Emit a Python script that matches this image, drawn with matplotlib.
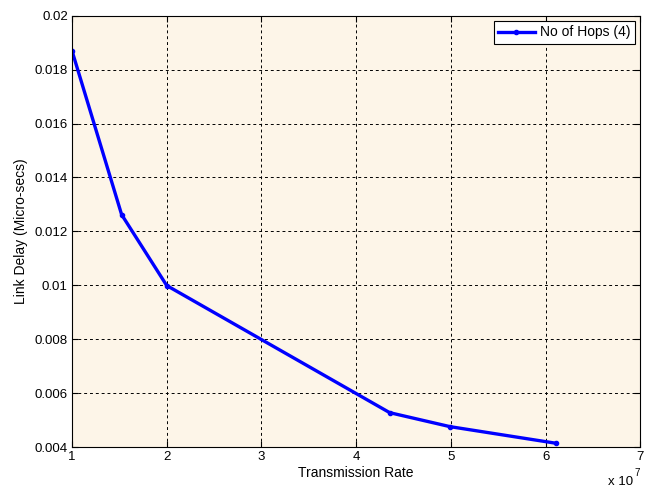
import matplotlib
matplotlib.use("Agg")
import matplotlib.pyplot as plt

rate = [1.0e7, 1.524e7, 2.0e7, 4.354e7, 4.99e7, 6.113e7]
delay = [0.0187, 0.01262, 0.00999, 0.005274, 0.004756, 0.004137]
xticks = [1e7, 2e7, 3e7, 4e7, 5e7, 6e7, 7e7]
xtick_labels = ["1", "2", "3", "4", "5", "6", "7"]
yticks = [0.004, 0.006, 0.008, 0.01, 0.012, 0.014, 0.016, 0.018, 0.02]
ytick_labels = ["0.004", "0.006", "0.008", "0.01", "0.012", "0.014", "0.016", "0.018", "0.02"]

plt.rcParams['font.family'] = ['Liberation Sans', 'DejaVu Sans']
plt.rcParams['font.size'] = 9

fig = plt.figure(figsize=(6.52, 4.98), dpi=100)
ax = fig.add_axes([72/652, 1-447/498, (640.3-72)/652, (447-15.7)/498])
ax.set_facecolor('#FDF5E8')
ax.plot(rate, delay, color='#0000FF', lw=2.4, marker='.', markersize=6, label='No of Hops (4)')
ax.set_xlim(1e7, 7e7)
ax.set_ylim(0.004, 0.02)
ax.set_xticks(xticks)
ax.set_xticklabels(xtick_labels)
ax.set_yticks(yticks)
ax.set_yticklabels(ytick_labels)
ax.tick_params(direction='in', length=4, width=0.8, top=True, right=True, labelsize=9.5, pad=3)
ax.grid(True, color='black', linestyle=(0, (3, 3)), linewidth=0.7)
for s in ax.spines.values():
    s.set_linewidth(0.8)
ax.set_xlabel('Transmission Rate', fontsize=10, labelpad=2)
ax.set_ylabel('Link Delay (Micro-secs)', fontsize=10, labelpad=4.5)
fig.text(608/652, 1-482/498, 'x 10', fontsize=9.5, ha='left', va='center')
fig.text(634/652, 1-473/498, '7', fontsize=7, ha='left', va='center')
leg = ax.legend(loc='upper right', fancybox=False, framealpha=1, edgecolor='black',
                fontsize=10, handlelength=2.6, handletextpad=0.4, borderpad=0.3,
                borderaxespad=0.4)
leg.get_frame().set_linewidth(0.8)
fig.savefig('out.png', dpi=100)
